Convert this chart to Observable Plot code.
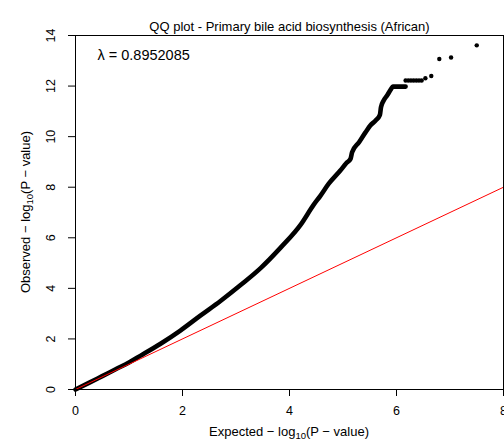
<!DOCTYPE html>
<html><head><meta charset="utf-8">
<script src="https://cdn.jsdelivr.net/npm/d3@7"></script>
<script src="https://cdn.jsdelivr.net/npm/@observablehq/plot@0.6"></script>
<style>
body{margin:0;background:#fff;}
svg{font-family:"Liberation Sans",Arial,sans-serif;}
</style>
</head><body><div id="chart"></div>
<script>
// ---- data ----
const titleText = "QQ plot - Primary bile acid biosynthesis (African)";
const lambdaText = "\u03bb = 0.8952085";
const xTicks = [0, 2, 4, 6, 8];
const yTicks = [0, 2, 4, 6, 8, 10, 12, 14];
// dense part of the QQ curve (expected, observed)
const denseX = [0, 0.25, 0.5, 0.75, 1.0, 1.21, 1.59, 1.96, 2.34, 2.71, 3.08, 3.46, 3.83, 4.21, 4.45, 4.58, 4.73, 4.95, 5.06, 5.14, 5.17, 5.30, 5.42, 5.51, 5.61, 5.69, 5.71, 5.76, 5.83, 5.90, 5.93, 6.17];
const denseY = [0, 0.26, 0.53, 0.80, 1.07, 1.33, 1.81, 2.33, 2.93, 3.50, 4.12, 4.80, 5.60, 6.52, 7.30, 7.67, 8.13, 8.66, 8.95, 9.12, 9.38, 9.78, 10.17, 10.44, 10.64, 10.86, 11.16, 11.43, 11.65, 11.89, 11.98, 11.98];
// sparse tail points
const tailX = [6.17, 6.22, 6.27, 6.32, 6.37, 6.42, 6.47, 6.54, 6.65, 6.80, 7.02, 7.50];
const tailY = [12.22, 12.22, 12.22, 12.22, 12.22, 12.22, 12.22, 12.31, 12.40, 13.07, 13.13, 13.61];
// reference line y = x
const refX = [0, 8];
const refY = [0, 8];

const dense = denseX.map((x, i) => ({x, y: denseY[i]}));
const tail = tailX.map((x, i) => ({x, y: tailY[i]}));
const ref = refX.map((x, i) => ({x, y: refY[i]}));

const FONT = "Liberation Sans, Arial, sans-serif";
const chart = Plot.plot({
  width: 504, height: 444,
  marginLeft: 75, marginRight: 1, marginTop: 35, marginBottom: 55,
  style: {fontFamily: FONT, fontSize: "12.5px", color: "black", background: "white", overflow: "visible"},
  x: {domain: [0, 8]},
  y: {domain: [0, 14]},
  marks: [
    Plot.line(dense, {x: "x", y: "y", stroke: "black", strokeWidth: 4.6, strokeLinecap: "round", strokeLinejoin: "round", curve: "monotone-x"}),
    Plot.dot(tail, {x: "x", y: "y", r: 2.2, fill: "black", stroke: "none"}),
    Plot.line(ref, {x: "x", y: "y", stroke: "#ff0000", strokeWidth: 1}),
    Plot.frame({stroke: "black", strokeWidth: 1}),
    Plot.axisX({ticks: xTicks, tickSize: 7, tickPadding: 10, label: null, tickFormat: d => String(d)}),
    Plot.axisY({ticks: yTicks, tickSize: 7, label: null, tickFormat: () => ""}),
    Plot.text(yTicks, {x: () => 0, y: d => d, text: d => String(d), rotate: -90, dx: -25, textAnchor: "middle", lineAnchor: "middle"}),
    Plot.text([lambdaText], {frameAnchor: "top-left", dx: 22, dy: 14, textAnchor: "start", fontSize: 14.5}),
    Plot.text([titleText], {frameAnchor: "top", dy: -14, fontSize: 13})
  ]
});
document.getElementById("chart").appendChild(chart);

// axis titles with subscripts
const svg = d3.select(chart);
const xt = svg.append("text").attr("x", 289).attr("y", 436).attr("text-anchor", "middle")
  .attr("font-family", FONT).attr("font-size", 13).attr("fill", "black");
xt.append("tspan").text("Expected \u2212 log");
xt.append("tspan").attr("font-size", 9.5).attr("dy", 3).text("10");
xt.append("tspan").attr("dy", -3).text("(P \u2212 value)");

const yt = svg.append("text").attr("transform", "translate(30,212) rotate(-90)").attr("text-anchor", "middle")
  .attr("font-family", FONT).attr("font-size", 13).attr("fill", "black");
yt.append("tspan").text("Observed \u2212 log");
yt.append("tspan").attr("font-size", 9.5).attr("dy", 3).text("10");
yt.append("tspan").attr("dy", -3).text("(P \u2212 value)");
</script>
</body></html>
